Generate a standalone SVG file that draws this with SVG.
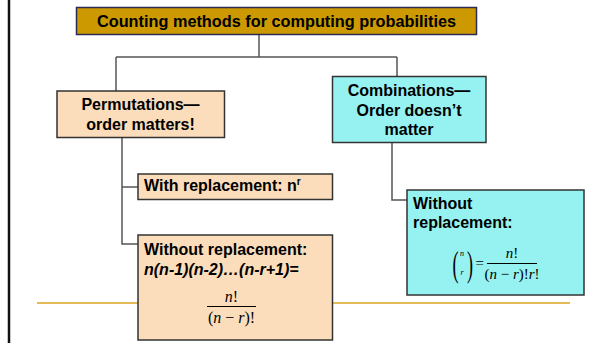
<svg xmlns="http://www.w3.org/2000/svg" width="592" height="343" viewBox="0 0 592 343">
<style>
.lbl{font-family:"Liberation Sans",Arial,sans-serif;font-weight:bold;font-size:16px;fill:#000}
.mid{text-anchor:middle}
.bi{font-style:italic}
.m{font-family:"Liberation Serif","Times New Roman",serif;fill:#000}
.i{font-style:italic}
.orange{fill:#FBDDBB;stroke:#333;stroke-width:1.5}
.cyan{fill:#96F2F0;stroke:#333;stroke-width:1.5}
.conn{fill:none;stroke:#555;stroke-width:1.5}
</style>
<rect x="0" y="0" width="592" height="343" fill="#fff"/>
<line x1="9" y1="0" x2="9" y2="343" stroke="#111" stroke-width="2.5"/>
<line x1="37" y1="303" x2="570" y2="303" stroke="#DDA520" stroke-width="1.5"/>
<g id="connectors">
<path class="conn" d="M259,34 V57 M116,57 H397 M116,57 V91 M397,57 V76"/>
<path class="conn" d="M122,137 V244 H138 M122,187 H138"/>
<path class="conn" d="M392,143 V200 H407"/>
</g>
<g id="root">
<rect x="76.5" y="7.5" width="400" height="27" fill="#CC9900" stroke="#2b2b55" stroke-width="1.5"/>
<text class="lbl mid" x="276.5" y="27" style="font-size:16.3px">Counting methods for computing probabilities</text>
</g>
<g id="permutations">
<rect class="orange" x="57" y="91" width="167.5" height="46.5"/>
<text class="lbl mid" x="140.5" y="109.5">Permutations—</text>
<text class="lbl mid" x="140.5" y="130">order matters!</text>
</g>
<g id="combinations">
<rect class="cyan" x="332.5" y="76.5" width="153.5" height="66"/>
<text class="lbl mid" x="409" y="96">Combinations—</text>
<text class="lbl mid" x="409" y="115.5">Order doesn’t</text>
<text class="lbl mid" x="409" y="134.5">matter</text>
</g>
<g id="with-replacement">
<rect class="orange" x="138" y="174" width="194.5" height="25.5"/>
<text class="lbl" x="144" y="191">With replacement:  n<tspan style="font-size:10px" dy="-6">r</tspan></text>
</g>
<g id="perm-without-replacement">
<rect class="orange" x="138" y="235" width="194.5" height="105"/>
<text class="lbl" x="144" y="255">Without replacement:</text>
<text class="lbl bi" x="144" y="275">n(n-1)(n-2)…(n-r+1)=</text>
<text class="m mid" x="231.5" y="301.5" style="font-size:16px"><tspan class="i">n</tspan>!</text>
<line x1="207" y1="306.5" x2="256" y2="306.5" stroke="#000" stroke-width="1"/>
<text class="m mid" x="231.5" y="322.5" style="font-size:16px">(<tspan class="i">n</tspan> − <tspan class="i">r</tspan>)!</text>
</g>
<g id="comb-without-replacement">
<rect class="cyan" x="407" y="190" width="177" height="105"/>
<text class="lbl" x="413" y="208.5">Without</text>
<text class="lbl" x="413" y="228">replacement:</text>
<text class="m" x="452.5" y="276" style="font-size:36px" transform="translate(452.5 0) scale(0.5 1) translate(-452.5 0)">(</text>
<text class="m" x="467" y="276" style="font-size:36px" transform="translate(467 0) scale(0.5 1) translate(-467 0)">)</text>
<text class="m i mid" x="462" y="256" style="font-size:8px">n</text>
<text class="m i mid" x="462" y="275" style="font-size:8px">r</text>
<text class="m" x="475.5" y="268" style="font-size:15px">=</text>
<text class="m mid" x="512" y="258" style="font-size:15px"><tspan class="i">n</tspan>!</text>
<line x1="487" y1="263.5" x2="537" y2="263.5" stroke="#000" stroke-width="1"/>
<text class="m mid" x="512" y="278.5" style="font-size:15px">(<tspan class="i">n</tspan> − <tspan class="i">r</tspan>)!<tspan class="i">r</tspan>!</text>
</g>
</svg>
